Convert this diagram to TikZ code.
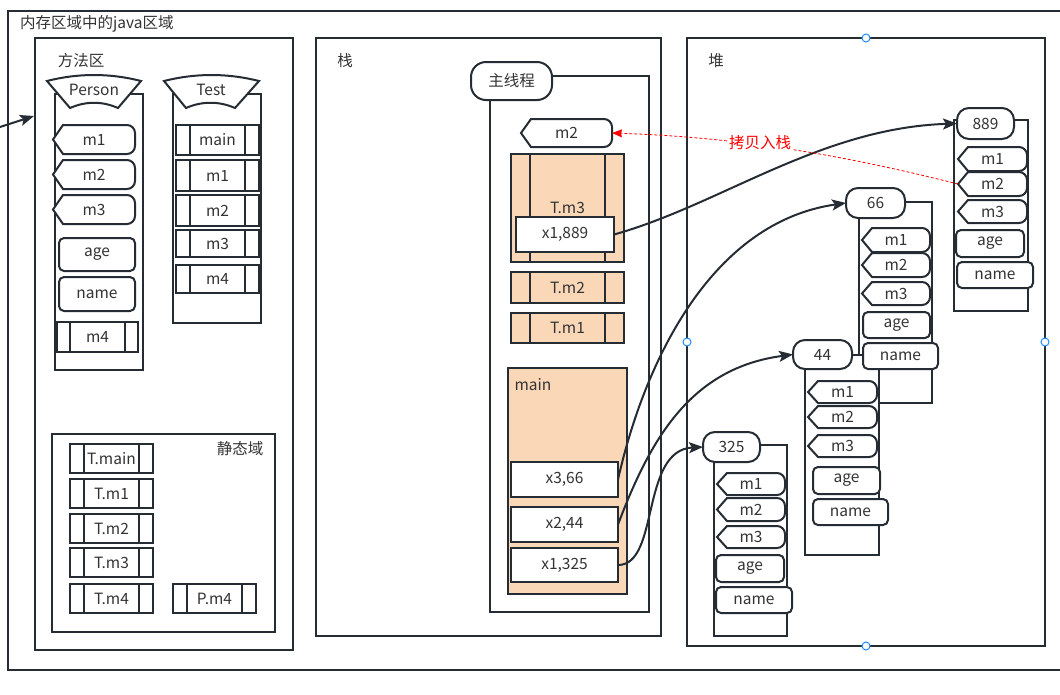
\documentclass[tikz,border=0pt]{standalone}
\usepackage{fontspec}
\setmainfont{Noto Sans CJK SC}
\usetikzlibrary{arrows.meta}
\definecolor{ln}{RGB}{38,44,51}
\definecolor{tx}{RGB}{51,51,51}
\definecolor{peach}{HTML}{FAD7B7}
\definecolor{hb}{HTML}{1A8CFF}
\newcommand\fs{\fontsize{15.5}{17}\selectfont}
\tikzset{
  shp/.style={draw=ln, line width=2pt, fill=white},
  frm/.style={draw=ln, line width=2pt},
  lbl/.style={text=tx, font=\fs, inner sep=0pt},
  rr/.style={shp, rounded corners=5pt},
  hdr/.style={shp, rounded corners=12pt},
  arr/.style={draw=ln, line width=2pt, -{Stealth[length=14pt,width=11pt,inset=3pt]}},
  redarr/.style={draw=red, line width=0.8pt, dash pattern=on 3pt off 2pt, -{Stealth[length=10pt,width=8pt,inset=1pt]}},
  handle/.style={circle, draw=hb, fill=white, line width=1pt, minimum size=8pt, inner sep=0pt},
  bxs/.style n args={4}{inner sep=0pt, outer sep=0pt, text=tx, font=\fs,
     minimum width={(#3-#1)*1pt}, minimum height={(#4-#2)*1pt}},
}
% generic box: style, name, x1,y1,x2,y2, text
\newcommand\bx[7]{\node[#1,bxs={#3}{#4}{#5}{#6}] (#2) at ({(#3+#5)/2},{(#4+#6)/2}) {#7};}
% display shape: name, x1,y1,x2,y2, text
\newcommand\dsp[6]{%
  \draw[shp] (#2,{(#3+#5)/2}) -- ({#2+10},#3) -- ({#4-8},#3)
    arc[start angle=90,end angle=0,radius=8pt] -- (#4,{#5-8})
    arc[start angle=0,end angle=-90,radius=8pt] -- ({#2+10},#5) -- cycle;
  \node[bxs={#2}{#3}{#4}{#5}] (#1) at ({(#2+#4)/2},{(#3+#5)/2}) {#6};}
% process shape: name, x1,y1,x2,y2, text, inset, fill
\newcommand\prc[8]{%
  \node[shp,fill=#8,bxs={#2}{#3}{#4}{#5}] (#1) at ({(#2+#4)/2},{(#3+#5)/2}) {#6};
  \draw[frm] ({#2+#7},#3) -- ({#2+#7},#5) ({#4-#7},#3) -- ({#4-#7},#5);}
\begin{document}
\begin{tikzpicture}[x=1pt,y=-1pt]
\useasboundingbox (0,0) rectangle (1060,694);
% outer frame
\coordinate (otl) at (8,11);
\draw[frm] (1061,11) -- (otl) -- (8,670) -- (1061,670);
\node[lbl, anchor=west] (title) at (20,24) {内存区域中的java区域};
% containers
\bx{frm}{ma}{35}{38}{293}{650}{}
\bx{frm}{stk}{316}{38}{661}{636}{}
\bx{frm}{heap}{687}{38}{1045}{646}{}
\node[lbl] (malbl) at (81,61) {方法区};
\node[lbl] (stklbl) at (345,61) {栈};
\node[lbl] (heaplbl) at (716,61) {堆};
% ---------- Person class
\bx{shp}{pbody}{55}{94}{143}{370}{}
\draw[shp] (47,81) .. controls (78,73) and (110,73) .. (141,81) -- (118,108) .. controls (102,101) and (86,101) .. (70,108) -- cycle;
\node[lbl] (phdr) at (94,90) {Person};
\dsp{pm1}{53}{125}{135}{154}{m1}
\dsp{pm2}{53}{160}{135}{189}{m2}
\dsp{pm3}{53}{195}{135}{224}{m3}
\bx{rr}{page}{59}{238}{135}{271}{age}
\bx{rr}{pname}{59}{277}{135}{311}{name}
\prc{pm4}{57}{322}{138}{352}{m4}{13}{white}
% ---------- Test class
\bx{shp}{tbody}{173}{94}{261}{323}{}
\draw[shp] (164,81) .. controls (196,73) and (227,73) .. (259,81) -- (235,108) .. controls (219,101) and (202,101) .. (186,108) -- cycle;
\node[lbl] (thdr) at (211,90) {Test};
\prc{tmain}{176}{125}{259}{155}{main}{14}{white}
\prc{tm1}{176}{160}{259}{191}{m1}{14}{white}
\prc{tm2}{176}{195}{259}{226}{m2}{14}{white}
\prc{tm3}{176}{230}{259}{257}{m3}{14}{white}
\prc{tm4}{176}{265}{259}{293}{m4}{14}{white}
% ---------- static area
\bx{frm}{sa}{52}{434}{275}{632}{}
\node[lbl] (salbl) at (240,449) {静态域};
\prc{stmain}{70}{444}{153}{473}{T.main}{14}{white}
\prc{stm1}{70}{479}{153}{508}{T.m1}{14}{white}
\prc{stm2}{70}{514}{153}{543}{T.m2}{14}{white}
\prc{stm3}{70}{548}{153}{577}{T.m3}{14}{white}
\prc{stm4}{70}{584}{153}{613}{T.m4}{14}{white}
\prc{spm4}{173}{584}{256}{613}{P.m4}{14}{white}
% ---------- stack
\bx{shp}{thbody}{490}{76}{649}{612}{}
\bx{shp,rounded corners=15pt}{thhdr}{471}{62}{552}{100}{主线程}
\dsp{sm2}{521}{119}{612}{147}{m2}
\prc{tm3f}{511}{154}{624}{262}{T.m3}{19}{peach}
\bx{shp}{x1889}{516}{217}{614}{252}{x1,889}
\prc{tm2f}{511}{272}{624}{303}{T.m2}{19}{peach}
\prc{tm1f}{511}{313}{624}{343}{T.m1}{19}{peach}
\bx{shp,fill=peach}{mainf}{508}{368}{627}{594}{}
\node[lbl] (mainlbl) at (533,385) {main};
\bx{shp}{x366}{511}{462}{618}{497}{x3,66}
\bx{shp}{x244}{511}{507}{618}{542}{x2,44}
\bx{shp}{x1325}{511}{548}{618}{582}{x1,325}
% ---------- heap: object 889
\bx{shp}{b889}{954}{120}{1028}{311}{}
\bx{hdr}{h889}{957}{108}{1014}{139}{889}
\dsp{o889m1}{958}{147}{1027}{171}{m1}
\dsp{o889m2}{958}{172}{1027}{196}{m2}
\dsp{o889m3}{958}{200}{1027}{223}{m3}
\bx{rr}{o889age}{956}{230}{1024}{257}{age}
\bx{rr}{o889name}{957}{262}{1033}{288}{name}
% object 66 (body)
\bx{shp}{b66}{859}{202}{932}{403}{}
\bx{hdr}{h66}{846}{188}{905}{218}{66}
% object 44 (body)
\bx{shp}{b44}{805}{355}{879}{555}{}
% object 66 items
\dsp{o66m1}{862}{228}{930}{252}{m1}
\dsp{o66m2}{862}{253}{930}{277}{m2}
\dsp{o66m3}{862}{282}{930}{305}{m3}
\bx{rr}{o66age}{863}{312}{930}{338}{age}
\bx{rr}{o66name}{863}{343}{938}{369}{name}
% object 44 items
\bx{hdr}{h44}{793}{340}{852}{369}{44}
\dsp{o44m1}{808}{381}{877}{403}{m1}
\dsp{o44m2}{808}{406}{877}{428}{m2}
\dsp{o44m3}{808}{435}{877}{457}{m3}
\bx{rr}{o44age}{813}{467}{880}{494}{age}
\bx{rr}{o44name}{813}{499}{888}{525}{name}
% object 325
\bx{shp}{b325}{714}{445}{787}{636}{}
\bx{hdr}{h325}{703}{432}{760}{462}{325}
\dsp{o325m1}{717}{473}{785}{495}{m1}
\dsp{o325m2}{717}{498}{785}{521}{m2}
\dsp{o325m3}{717}{526}{785}{548}{m3}
\bx{rr}{o325age}{716}{555}{784}{582}{age}
\bx{rr}{o325name}{716}{587}{792}{613}{name}
% ---------- connectors
\coordinate (src) at (0,127);
\coordinate (maentry) at (34,116);
\draw[arr] (src) -- (maentry);
\draw[arr] (x1889.east) .. controls (720,205) and (820,128) .. (h889.west);
\draw[arr] (x366.east) .. controls (645,360) and (712,222) .. (h66.west);
\draw[arr] (x244.east) .. controls (650,440) and (690,368) .. (h44.west);
\draw[arr] (x1325.east) .. controls (660,565) and (640,450) .. (h325.west);
\draw[redarr] (o889m2.west) .. controls (870,162) and (760,138) .. (sm2.east);
\node[text=red, font=\fs, fill=white, inner sep=1pt] (copylbl) at (760,143) {拷贝入栈};
% selection handles
\node[handle] (hd1) at (866,38) {};
\node[handle] (hd2) at (687,342) {};
\node[handle] (hd3) at (1045,342) {};
\node[handle] (hd4) at (866,646) {};
\end{tikzpicture}
\end{document}
